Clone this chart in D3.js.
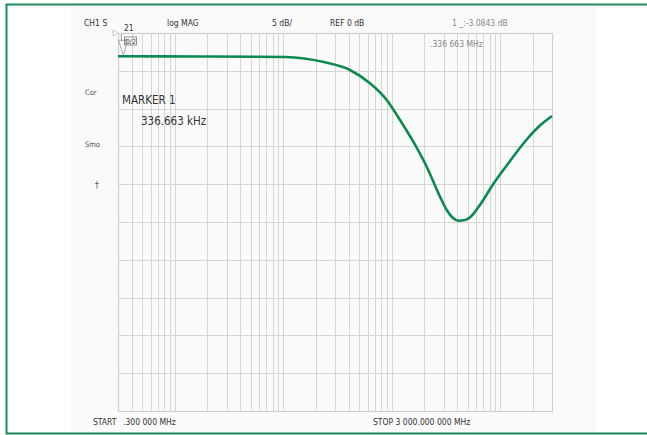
<!DOCTYPE html>
<html><head><meta charset="utf-8">
<script src="https://cdn.jsdelivr.net/npm/d3@7"></script>
<style>
html,body{margin:0;padding:0;background:#fff;}
svg{display:block;}
text{font-family:"Liberation Sans Narrow","DejaVu Sans Condensed","Liberation Sans",sans-serif;}
</style></head>
<body>
<svg id="c" width="647" height="435"></svg>
<script>
// ---- data ----
const freqMHz = [0.3, 1.71, 10.4, 24.3, 41.2, 63, 89.9, 119.2, 158.0, 210.0, 278.5, 321, 366.9, 410.6, 473.4, 537.7, 650, 863, 1231, 1754, 2323, 3000];
const magDB   = [-3.08, -3.1, -3.17, -3.88, -4.89, -6.65, -8.86, -11.51, -14.38, -17.69, -21.66, -23.41, -24.47, -24.83, -24.74, -24.27, -22.75, -19.97, -16.93, -14.09, -12.24, -10.98];
const dbTicks = [0, -5, -10, -15, -20, -25, -30, -35, -40, -45, -50];
const freqDomain = [0.3, 3000];
const markerFreq = 0.336663;
const markerDB = -3.0843;

// ---- layout ----
const svg = d3.select("#c");
const L = 118, R = 552, T = 33, B = 411;

// outer frame & panel
svg.append("rect").attr("x",71).attr("y",6).attr("width",525).attr("height",426).attr("fill","#fafafa");
svg.append("rect").attr("x",6.5).attr("y",4.5).attr("width",700).attr("height",429).attr("fill","none").attr("stroke","#1f8a5b").attr("stroke-width",2);

const x = d3.scaleLog().domain(freqDomain).range([L, R]);
const y = d3.scaleLinear().domain([-50, 0]).range([B, T]);

// vertical log grid
const vGrid = [];
for (let e = -1; e <= 3; e++) for (let m = 1; m <= 9; m++) {
  const f = m * Math.pow(10, e);
  if (f > freqDomain[0] + 1e-9 && f < freqDomain[1] - 1e-9) vGrid.push(f);
}
const g = svg.append("g");
g.selectAll("line.v").data(vGrid).join("line")
  .attr("x1", d => Math.round(x(d)) + 0.5).attr("x2", d => Math.round(x(d)) + 0.5)
  .attr("y1", T).attr("y2", B).attr("stroke", "#d6d6d6").attr("stroke-width", 1);
g.selectAll("line.h").data(dbTicks).join("line")
  .attr("x1", L).attr("x2", R)
  .attr("y1", d => Math.round(y(d)) + 0.5).attr("y2", d => Math.round(y(d)) + 0.5)
  .attr("stroke", "#d6d6d6").attr("stroke-width", 1);
g.append("rect").attr("x", L + 0.5).attr("y", T + 0.5).attr("width", R - L).attr("height", B - T)
  .attr("fill", "none").attr("stroke", "#cfcfcf").attr("stroke-width", 1.2);

// reference position indicator
svg.append("path").attr("d", `M${L-5},${T-3} L${L},${T} L${L-5},${T+3} Z`)
  .attr("fill", "none").attr("stroke", "#bbb").attr("stroke-width", 0.8);

// trace
const line = d3.line().x((d, i) => x(freqMHz[i])).y(d => y(d)).curve(d3.curveMonotoneX);
svg.append("path").datum(magDB).attr("d", line)
  .attr("fill", "none").attr("stroke", "#0b8a50").attr("stroke-width", 2.6).attr("stroke-linejoin", "round");

// marker symbol
const mx = x(markerFreq), my = y(markerDB);
svg.append("path").attr("d", `M${mx},${my-1} L${mx-5},${my-16} L${mx+4},${my-16} Z`)
  .attr("fill", "none").attr("stroke", "#999").attr("stroke-width", 0.8);
svg.append("line").attr("x1", mx - 2).attr("x2", mx - 2).attr("y1", T + 1).attr("y2", T + 8).attr("stroke", "#888").attr("stroke-width", 0.8);
svg.append("rect").attr("x", mx + 1).attr("y", T + 4).attr("width", 12).attr("height", 8)
  .attr("fill", "none").attr("stroke", "#666").attr("stroke-width", 0.7);
svg.append("text").attr("x", mx + 7).attr("y", T + 10.5).attr("text-anchor", "middle")
  .attr("font-size", 7).attr("fill", "#444").text("D/2");

// texts
const txt = (s, tx, ty, size, col) => svg.append("text").attr("x", tx).attr("y", ty)
  .attr("font-size", size).attr("fill", col || "#333").text(s);
txt("CH1 S", 84, 26, 8.5);
txt("21", 124, 31, 8.5);
txt("log MAG", 167, 26, 8.5);
txt("5 dB/", 272, 26, 8.5);
txt("REF 0 dB", 330, 26, 8.5);
txt("1 _:-3.0843 dB", 452, 26, 8.5, "#888");
txt(".336 663 MHz", 430, 47, 8.5, "#888");
txt("Cor", 85, 95, 7.5, "#555");
txt("MARKER 1", 122, 104, 11.5, "#333");
txt("336.663 kHz", 141, 125, 11.5, "#333");
txt("Smo", 85, 147, 7.5, "#555");
txt("†", 95, 188, 8.5, "#444");
txt("START", 93, 425, 8.5);
txt(".300 000 MHz", 123, 425, 8.5);
txt("STOP 3 000.000 000 MHz", 373, 425, 8.5);
</script>
</body></html>
